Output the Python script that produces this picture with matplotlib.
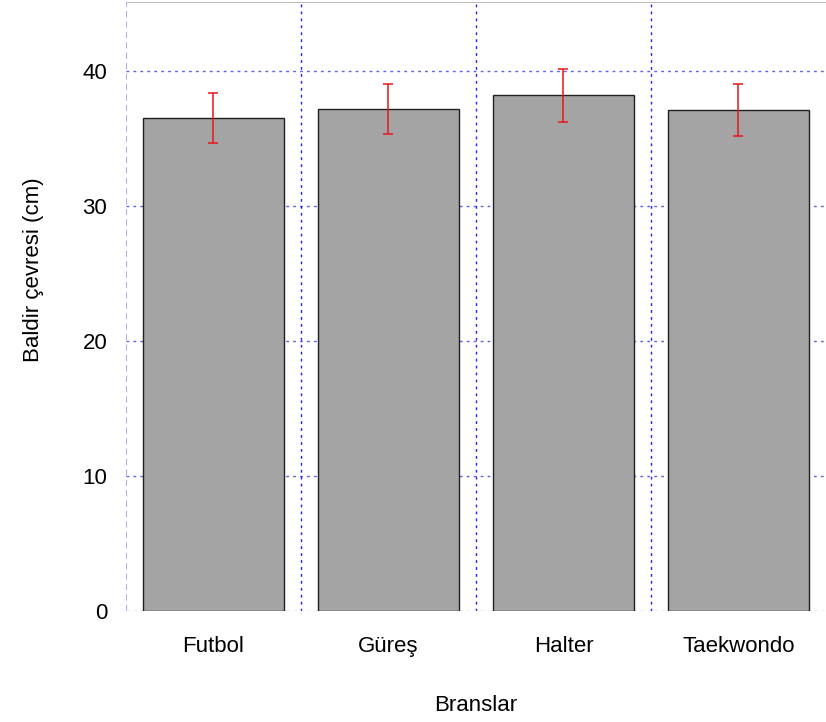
import matplotlib
matplotlib.use("Agg")
import matplotlib.pyplot as plt
import numpy as np

plt.rcParams['font.family'] = ['Liberation Sans', 'DejaVu Sans']

branslar = ['Futbol', 'Güreş', 'Halter', 'Taekwondo']
ortalama = [36.5, 37.2, 38.2, 37.1]
sd = [1.85, 1.85, 1.95, 1.9]

fig = plt.figure(figsize=(8.26, 7.22), dpi=100)
ax = fig.add_axes([0.1525, 0.1537, 0.8475, 0.8435])

x = np.arange(len(branslar))
ax.bar(x, ortalama, width=0.81, color='#a4a4a4', edgecolor='#202020', linewidth=1, zorder=3)
ax.errorbar(x, ortalama, yerr=sd, fmt='none', ecolor='#e8151b', elinewidth=1.1,
            capsize=3.3, capthick=1.1, zorder=4)

ax.set_xlim(-0.5, 3.5)
ax.set_ylim(0, 45.1)
ax.set_yticks([0, 10, 20, 30, 40])
ax.set_xticks(x)
ax.set_xticklabels(branslar)

# grid: horizontal at ticks, vertical between bars
for yv in [10, 20, 30, 40]:
    ax.axhline(yv, color='#6060e8', ls=(0, (2, 3)), lw=1, zorder=1)
for xv in [0.5, 1.5, 2.5]:
    ax.axvline(xv, color='#2020f0', ls=(0, (2, 3)), lw=1, zorder=1)
ax.axhline(0, color='#b0b0e0', ls=(0, (3, 2)), lw=1, zorder=2)
ax.axvline(-0.5, color='#b0b0e0', ls=(0, (3, 2)), lw=1.5, zorder=2)

for s in ['left', 'bottom', 'right']:
    ax.spines[s].set_visible(False)
ax.spines['top'].set_color('#c0c0c0')
ax.tick_params(axis='both', length=0, labelsize=16)
ax.tick_params(axis='y', pad=13.5)
ax.tick_params(axis='x', pad=18)

ax.set_xlabel('Branslar', fontsize=16, labelpad=27)
fig.text(0.04, 0.4986, 'Baldir çevresi (cm)', fontsize=16, rotation=90,
         ha='center', va='bottom')

fig.savefig('out.png', dpi=100)
